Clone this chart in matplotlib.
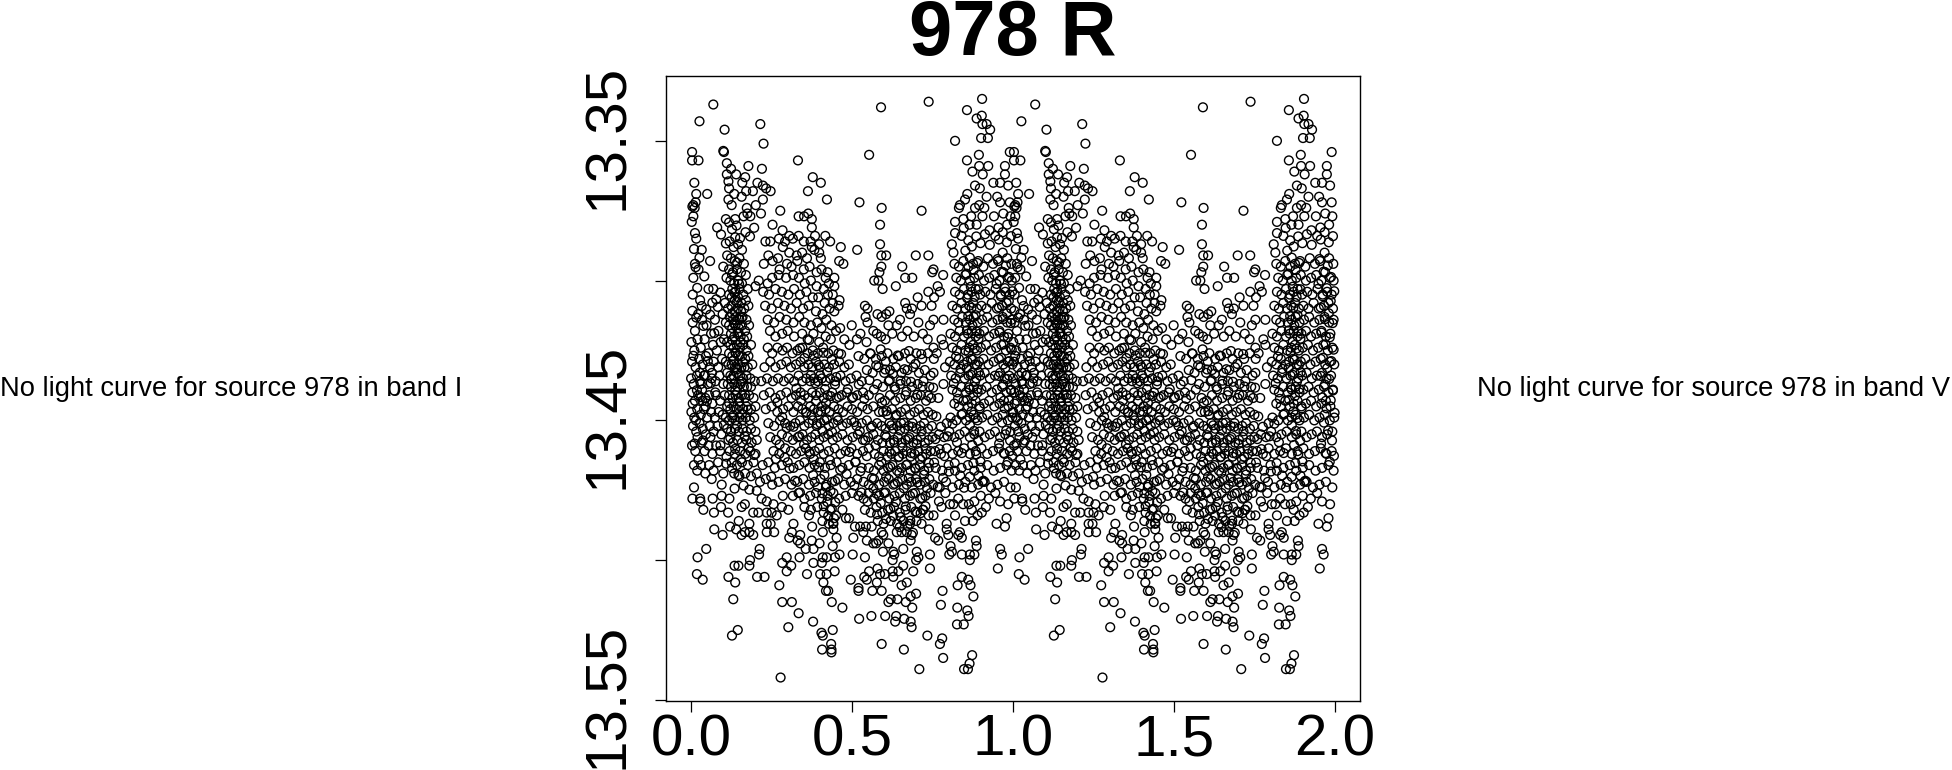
import matplotlib
matplotlib.use('Agg')
import matplotlib.pyplot as plt
from matplotlib.transforms import ScaledTranslation
import numpy as np

# phase, magnitude (the plot shows it twice)
top_sparse = [(.069,13.337),(.026,13.343),(.104,13.346),(.215,13.344),(.225,13.351),(.590,13.338),(.738,13.336),(.904,13.335),
(.857,13.339),(.903,13.341),(.887,13.342),(.905,13.344),(.918,13.344),(.929,13.346),(.901,13.349),(.922,13.349),(.820,13.350),
(.003,13.354),(.003,13.357),(.023,13.357),(.100,13.3536),(.102,13.354),(.332,13.357),(.553,13.355),(.111,13.358),(.124,13.360),
(.178,13.359),(.220,13.360),(.857,13.357),(.894,13.355),(.895,13.359),(.923,13.359),(.874,13.361),(.906,13.362),(.975,13.359),
(.990,13.354),(.111,13.362),(.140,13.362),(.168,13.363),(.378,13.363),(.403,13.365),(.010,13.365),(.159,13.365),(.116,13.3645),
(.118,13.367),(.206,13.365),(.223,13.366),(.233,13.367),(.247,13.368),(.363,13.368),(.192,13.368),(.171,13.368),(.016,13.369),
(.050,13.369),(.134,13.369),(.157,13.370),(.116,13.371),(.223,13.371),(.422,13.371),(.523,13.372),(.007,13.373),(.014,13.372),
(.004,13.3735),(.011,13.374),(.126,13.373),(.592,13.374),(.716,13.375),(.201,13.373),(.173,13.374),(.175,13.376),(.163,13.377),
(.184,13.377),(.217,13.376),(.277,13.375),(.334,13.377),(.351,13.377),(.364,13.376),(.375,13.378),(.007,13.377),(.002,13.379),
(.108,13.378),(.137,13.378),(.253,13.380),(.587,13.380),(.081,13.381),(.375,13.381),(.284,13.382),(.012,13.383),(.016,13.385),
(.882,13.366),(.897,13.367),(.858,13.369),(.851,13.371),(.918,13.370),(.951,13.370),(.960,13.372),(.939,13.365),(.960,13.365),
(.975,13.362),(.832,13.374),(.882,13.374),(.895,13.373),(.911,13.374),(.941,13.377),(.870,13.377),(.846,13.378),(.820,13.379),
(.820,13.383),(.810,13.387),(.815,13.390),(.887,13.380),(.927,13.382),(.985,13.366),(.990,13.372),(.970,13.376),(.982,13.380),
(.835,13.373),(.905,13.377),(.955,13.381),(.945,13.384),(.992,13.377),(.865,13.380),(.840,13.384)]

upper_scatter = [(.587,13.387),(.591,13.391),(.606,13.391),(.698,13.391),(.737,13.391),(.656,13.395),(.591,13.395),(.585,13.397),
(.569,13.400),(.582,13.400),(.595,13.403),(.636,13.402),(.665,13.399),(.687,13.399),(.753,13.396),(.749,13.397),(.783,13.398),
(.766,13.402),(.773,13.404),(.737,13.404),(.755,13.406),(.704,13.406),(.665,13.408),(.747,13.409),(.716,13.409),(.686,13.410),
(.670,13.410),(.680,13.412),(.540,13.409),(.548,13.410),(.542,13.413),(.548,13.415),(.579,13.412),(.592,13.413),(.606,13.412),
(.616,13.411),(.465,13.388),(.516,13.389),(.460,13.393),(.473,13.394),(.424,13.397),(.445,13.399),(.499,13.416),(.463,13.417),
(.566,13.418),(.577,13.419),(.613,13.416),(.639,13.416),(.649,13.414),(.753,13.414),(.784,13.414),(.742,13.416),(.706,13.415),
(.778,13.421),(.784,13.423),(.753,13.424),(.763,13.426),(.789,13.431),(.753,13.433),(.768,13.442),(.784,13.437),(.794,13.451),
(.007,13.399),(.023,13.396),(.033,13.389),(.012,13.394),(.059,13.393),(.005,13.405),(.028,13.407),(.054,13.403),(.069,13.403),
(.231,13.386),(.246,13.386),(.273,13.385),(.292,13.386),(.305,13.384),(.316,13.385),(.334,13.384),(.350,13.386),(.371,13.386),
(.385,13.384),(.398,13.387),(.417,13.384),(.432,13.386),(.398,13.390),(.375,13.388),(.383,13.389),(.403,13.392),(.360,13.392),
(.345,13.390),(.328,13.391),(.305,13.390),(.285,13.388),(.270,13.392),(.240,13.391),(.226,13.394),(.253,13.393),(.275,13.396),
(.298,13.394),(.312,13.395),(.330,13.393),(.350,13.396),(.368,13.395),(.390,13.397),(.405,13.396),(.418,13.399),(.428,13.401),
(.445,13.402),(.440,13.405),(.425,13.405),(.440,13.408),(.458,13.409),(.461,13.407),(.412,13.403),(.390,13.402),(.372,13.400),
(.353,13.401),(.335,13.399),(.317,13.398),(.295,13.399),(.272,13.398),(.252,13.399),(.238,13.401),(.210,13.400),(.200,13.402),
(.224,13.404),(.242,13.405),(.262,13.403),(.282,13.404),(.302,13.405),(.320,13.403),(.338,13.405),(.358,13.404),(.378,13.406),
(.395,13.406),(.415,13.408),(.430,13.410),(.445,13.411),(.230,13.409),(.250,13.410),(.270,13.408),(.290,13.409),
(.310,13.410),(.328,13.408),(.348,13.410),(.365,13.409),(.388,13.411),(.408,13.412),(.420,13.414),(.238,13.414),
(.258,13.415),(.275,13.413),(.296,13.414),(.318,13.415),(.336,13.413),(.352,13.415),(.372,13.416),(.392,13.415),(.405,13.417),
(.436,13.416),(.450,13.418),(.245,13.418),(.262,13.420),(.283,13.419),(.300,13.418),(.320,13.420),
(.345,13.419),(.362,13.421),(.380,13.419),(.398,13.422),(.418,13.420),(.434,13.421),(.476,13.421),(.492,13.423),(.515,13.421),
(.526,13.419),(.545,13.422),(.590,13.420),(.604,13.421),(.625,13.419),(.655,13.420),(.672,13.418),(.692,13.420),(.720,13.419),(.735,13.421)]

# dense columns, roughly from left to right
col_left = [(.005,13.415),(.012,13.418),(.022,13.412),(.034,13.414),(.048,13.416),(.062,13.419),(.074,13.414),(.085,13.418),
(.001,13.422),(.010,13.425),(.020,13.421),(.030,13.424),(.042,13.421),(.054,13.426),(.068,13.423),(.080,13.425),(.092,13.422),
(.003,13.429),(.014,13.431),(.025,13.428),(.036,13.430),(.046,13.427),(.058,13.431),(.070,13.429),(.084,13.431),(.096,13.428),
(.000,13.435),(.008,13.437),(.018,13.434),(.028,13.436),(.040,13.434),(.052,13.437),(.064,13.435),(.076,13.436),(.088,13.434),(.100,13.437),
(.004,13.440),(.012,13.443),(.022,13.441),(.034,13.439),(.044,13.442),(.056,13.441),(.066,13.444),(.078,13.441),(.090,13.443),(.104,13.441),
(.001,13.447),(.010,13.449),(.019,13.446),(.030,13.448),(.040,13.446),(.050,13.449),(.062,13.447),(.074,13.449),(.086,13.447),(.098,13.448),
(.006,13.452),(.016,13.454),(.026,13.451),(.036,13.453),(.046,13.455),(.058,13.452),(.070,13.454),(.082,13.452),(.094,13.455),
(.003,13.459),(.013,13.461),(.023,13.464),(.033,13.458),(.042,13.461),(.054,13.459),(.066,13.462),(.078,13.459),(.090,13.461),
(.009,13.466),(.019,13.468),(.031,13.466),(.044,13.469),(.056,13.466),(.070,13.468),(.084,13.465),(.100,13.469),(.110,13.463),
(.030,13.437),(.045,13.445),(.015,13.450),(.035,13.443),(.060,13.456),(.075,13.440),(.005,13.444),(.020,13.456),(.065,13.433)]

col_peak = [(.120,13.386),(.132,13.388),(.146,13.387),(.158,13.389),(.112,13.391),(.124,13.392),(.136,13.393),(.150,13.392),(.164,13.394),
(.100,13.395),(.118,13.396),(.130,13.397),(.142,13.396),(.155,13.397),(.170,13.398),(.110,13.399),(.122,13.400),(.134,13.401),(.146,13.400),(.158,13.401),
(.128,13.403),(.138,13.404),(.150,13.403),(.162,13.405),(.176,13.403),(.118,13.405),(.126,13.406),(.136,13.407),(.146,13.406),(.156,13.408),(.170,13.407),
(.105,13.408),(.115,13.410),(.125,13.409),(.135,13.411),(.145,13.410),(.155,13.411),(.165,13.410),(.178,13.409),(.120,13.413),(.130,13.414),(.140,13.413),
(.150,13.414),(.160,13.413),(.172,13.414),(.098,13.412),(.108,13.415),(.118,13.416),(.128,13.417),(.138,13.416),(.148,13.417),(.158,13.416),(.168,13.418),
(.180,13.416),(.124,13.419),(.134,13.420),(.144,13.419),(.154,13.420),(.164,13.421),(.174,13.420),(.102,13.421),(.112,13.422),(.122,13.423),(.132,13.424),
(.142,13.423),(.152,13.424),(.162,13.423),(.172,13.425),(.186,13.423),(.118,13.426),(.128,13.427),(.138,13.426),(.148,13.427),(.158,13.427),(.168,13.428),
(.178,13.427),(.108,13.429),(.116,13.430),(.126,13.430),(.136,13.431),(.146,13.430),(.156,13.431),(.166,13.431),(.176,13.431),(.190,13.430),(.112,13.433),
(.122,13.434),(.132,13.434),(.142,13.433),(.152,13.434),(.162,13.435),(.172,13.434),(.184,13.435),(.114,13.437),(.124,13.438),(.134,13.437),(.144,13.438),
(.154,13.437),(.164,13.438),(.174,13.438),(.186,13.438),(.198,13.436),(.118,13.441),(.128,13.442),(.138,13.441),(.148,13.442),(.158,13.441),(.168,13.442),
(.180,13.441),(.194,13.442),(.112,13.445),(.122,13.446),(.132,13.445),(.142,13.446),(.152,13.445),(.162,13.446),(.172,13.445),(.186,13.446),(.200,13.445),
(.108,13.449),(.118,13.450),(.128,13.449),(.138,13.450),(.150,13.449),(.160,13.450),(.170,13.449),(.182,13.450),(.196,13.449),(.112,13.453),(.124,13.454),
(.136,13.453),(.148,13.454),(.160,13.453),(.172,13.454),(.186,13.453),(.200,13.454),(.116,13.457),(.130,13.458),(.144,13.457),(.158,13.458),(.172,13.457),
(.188,13.458),(.204,13.457),(.120,13.461),(.136,13.462),(.152,13.461),(.168,13.462),(.184,13.461),(.200,13.462),(.126,13.465),(.142,13.466),(.158,13.465),
(.176,13.466),(.194,13.465),(.134,13.469),(.150,13.470),(.168,13.469),(.186,13.470),(.204,13.469)]

col_middle = [(.238,13.424),(.252,13.426),(.268,13.424),(.284,13.425),(.298,13.424),(.315,13.426),(.330,13.425),(.346,13.424),(.362,13.426),(.378,13.425),
(.394,13.426),(.410,13.424),(.426,13.426),(.442,13.425),(.458,13.426),(.228,13.431),(.246,13.429),(.262,13.431),(.280,13.430),(.296,13.429),(.310,13.431),
(.326,13.430),(.340,13.429),(.352,13.431),(.364,13.430),(.376,13.431),(.388,13.429),(.400,13.431),(.414,13.430),(.428,13.431),(.444,13.430),(.460,13.429),(.476,13.431),
(.490,13.430),(.218,13.436),(.236,13.435),(.254,13.436),(.270,13.435),(.288,13.436),(.304,13.435),(.320,13.436),(.334,13.434),(.346,13.436),(.358,13.435),(.370,13.436),
(.382,13.435),(.394,13.436),(.406,13.435),(.418,13.436),(.432,13.435),(.448,13.436),(.464,13.434),(.480,13.436),(.496,13.435),(.514,13.434),(.530,13.436),(.226,13.441),
(.244,13.440),(.262,13.442),(.278,13.441),(.296,13.440),(.312,13.442),(.326,13.441),(.340,13.440),(.352,13.441),(.364,13.442),(.376,13.440),(.388,13.441),(.400,13.440),
(.412,13.442),(.424,13.441),(.438,13.440),(.452,13.442),(.468,13.441),(.484,13.440),(.500,13.442),(.516,13.441),(.534,13.440),(.552,13.441),(.568,13.439),(.232,13.446),
(.250,13.445),(.268,13.447),(.286,13.446),(.302,13.445),(.318,13.447),(.332,13.445),(.346,13.446),(.358,13.447),(.370,13.445),(.382,13.446),(.394,13.447),(.406,13.445),
(.418,13.446),(.430,13.447),(.444,13.445),(.458,13.446),(.472,13.447),(.486,13.445),(.500,13.446),(.516,13.447),(.532,13.445),(.548,13.446),(.566,13.445),(.584,13.447),
(.240,13.451),(.258,13.452),(.276,13.450),(.292,13.451),(.308,13.452),(.324,13.451),(.338,13.450),(.352,13.452),(.366,13.451),(.378,13.450),(.390,13.452),(.402,13.451),
(.414,13.450),(.428,13.452),(.442,13.451),(.456,13.450),(.470,13.452),(.484,13.451),(.498,13.450),(.514,13.452),(.530,13.451),(.546,13.450),(.562,13.452),(.578,13.451),
(.246,13.456),(.264,13.457),(.282,13.455),(.300,13.456),(.316,13.457),(.332,13.456),(.346,13.455),(.360,13.457),(.374,13.456),(.386,13.455),(.398,13.457),(.412,13.456),
(.426,13.455),(.440,13.457),(.454,13.456),(.470,13.455),(.486,13.457),(.502,13.456),(.518,13.455),(.534,13.457),(.550,13.456),(.566,13.455),(.256,13.461),(.274,13.462),
(.292,13.460),(.310,13.461),(.326,13.462),(.342,13.461),(.356,13.460),(.370,13.462),(.384,13.461),(.398,13.460),(.412,13.462),(.428,13.461),(.446,13.460),(.464,13.462),
(.480,13.461),(.498,13.460),(.516,13.462),(.534,13.461),(.552,13.460),(.222,13.466),(.240,13.465),(.260,13.467),(.282,13.466),(.300,13.465),(.318,13.467),(.336,13.466),
(.352,13.465),(.368,13.467),(.384,13.466),(.400,13.465),(.416,13.467),(.434,13.466),(.452,13.465),(.470,13.467),(.490,13.466),(.510,13.465),(.530,13.467),(.214,13.472),
(.232,13.471),(.252,13.473),(.272,13.472),(.292,13.471),(.312,13.473),(.330,13.472),(.348,13.471),(.366,13.473),(.384,13.472),(.402,13.471),(.420,13.473),(.438,13.472),
(.456,13.471),(.476,13.473),(.496,13.472),(.516,13.471),(.316,13.477),(.334,13.476),(.352,13.478),(.370,13.477),(.388,13.476),(.406,13.478),(.424,13.477),(.442,13.476),
(.460,13.478),(.480,13.477),(.500,13.476),(.352,13.481),(.372,13.482),(.392,13.481),(.412,13.483),(.432,13.482),(.450,13.484),(.470,13.482),(.408,13.486),(.428,13.487),(.444,13.485)]

col_trough = [(.520,13.427),(.538,13.428),(.556,13.426),(.574,13.428),(.592,13.427),(.610,13.426),(.628,13.428),(.646,13.427),(.664,13.426),(.682,13.428),(.700,13.426),(.718,13.428),
(.736,13.426),(.754,13.428),(.546,13.432),(.564,13.433),(.582,13.431),(.600,13.433),(.618,13.432),(.636,13.431),(.654,13.433),(.672,13.432),(.690,13.431),(.708,13.433),(.726,13.432),
(.744,13.434),(.578,13.437),(.596,13.438),(.614,13.436),(.632,13.438),(.650,13.437),(.668,13.436),(.686,13.438),(.704,13.437),(.722,13.436),(.740,13.438),(.586,13.442),(.602,13.443),
(.618,13.441),(.634,13.443),(.650,13.442),(.666,13.441),(.682,13.443),(.698,13.442),(.714,13.441),(.730,13.443),(.746,13.442),(.596,13.447),(.610,13.448),(.624,13.446),(.638,13.448),
(.652,13.447),(.666,13.446),(.680,13.448),(.694,13.447),(.708,13.446),(.722,13.448),(.736,13.447),(.750,13.448),(.592,13.452),(.604,13.453),(.616,13.451),(.628,13.453),(.640,13.452),
(.652,13.451),(.664,13.453),(.676,13.452),(.688,13.451),(.700,13.453),(.712,13.452),(.724,13.451),(.736,13.453),(.748,13.452),(.580,13.457),(.594,13.458),(.606,13.456),(.618,13.458),
(.630,13.457),(.642,13.456),(.654,13.458),(.666,13.457),(.678,13.456),(.690,13.458),(.702,13.457),(.714,13.456),(.726,13.458),(.738,13.457),(.750,13.456),(.570,13.462),(.584,13.463),
(.598,13.461),(.610,13.463),(.622,13.462),(.634,13.461),(.646,13.463),(.658,13.462),(.670,13.461),(.682,13.463),(.694,13.462),(.706,13.461),(.718,13.463),(.730,13.462),(.744,13.461),
(.552,13.467),(.568,13.468),(.584,13.466),(.598,13.468),(.612,13.467),(.626,13.466),(.640,13.468),(.654,13.467),(.668,13.466),(.682,13.468),(.696,13.467),(.710,13.466),(.724,13.468),
(.738,13.467),(.536,13.472),(.552,13.473),(.568,13.471),(.584,13.473),(.600,13.472),(.614,13.471),(.628,13.473),(.642,13.472),(.656,13.471),(.670,13.473),(.684,13.472),(.698,13.471),
(.712,13.473),(.726,13.472),(.740,13.471),(.520,13.477),(.536,13.478),(.552,13.476),(.568,13.478),(.584,13.477),(.600,13.476),(.616,13.478),(.632,13.477),(.648,13.476),(.664,13.478),
(.680,13.477),(.696,13.476),(.712,13.478),(.728,13.477),(.744,13.476),(.540,13.482),(.558,13.483),(.576,13.481),(.594,13.483),(.612,13.482),(.630,13.481),(.648,13.483),(.666,13.482),
(.684,13.481),(.702,13.483),(.720,13.482),(.738,13.484),(.580,13.486),(.598,13.487),(.620,13.486),(.640,13.487),(.660,13.486),(.680,13.487),(.700,13.486),(.716,13.487)]

col_rise = [(.818,13.394),(.832,13.395),(.846,13.393),(.862,13.395),(.876,13.394),(.892,13.393),(.908,13.395),(.922,13.392),(.938,13.394),(.954,13.393),(.968,13.390),(.982,13.392),(.995,13.394),
(.824,13.399),(.838,13.400),(.852,13.398),(.866,13.400),(.880,13.399),(.894,13.398),(.910,13.400),(.926,13.399),(.942,13.398),(.958,13.400),(.970,13.397),(.984,13.399),(.996,13.400),
(.820,13.404),(.834,13.405),(.848,13.403),(.860,13.405),(.872,13.404),(.884,13.403),(.898,13.405),(.914,13.404),(.930,13.405),(.946,13.403),(.962,13.405),(.976,13.404),(.990,13.405),
(.812,13.409),(.826,13.410),(.840,13.408),(.852,13.410),(.864,13.409),(.876,13.408),(.888,13.410),(.902,13.409),(.918,13.410),(.934,13.408),(.950,13.410),(.966,13.409),(.980,13.408),(.994,13.410),
(.818,13.414),(.830,13.415),(.842,13.413),(.854,13.415),(.866,13.414),(.878,13.413),(.890,13.415),(.904,13.414),(.920,13.413),(.936,13.415),(.952,13.414),(.968,13.413),(.982,13.415),(.996,13.414),
(.806,13.419),(.820,13.420),(.834,13.418),(.848,13.420),(.860,13.419),(.872,13.418),(.884,13.420),(.896,13.419),(.910,13.418),(.926,13.420),(.942,13.419),(.958,13.418),(.972,13.420),(.986,13.419),
(.812,13.424),(.826,13.425),(.840,13.423),(.852,13.425),(.864,13.424),(.876,13.423),(.888,13.425),(.900,13.424),(.916,13.423),(.932,13.425),(.948,13.424),(.964,13.423),(.978,13.425),(.992,13.424),
(.804,13.429),(.818,13.430),(.832,13.428),(.846,13.430),(.858,13.429),(.870,13.428),(.882,13.430),(.894,13.429),(.908,13.428),(.924,13.430),(.940,13.429),(.956,13.428),(.970,13.430),(.984,13.429),(.998,13.430),
(.808,13.434),(.822,13.435),(.836,13.433),(.850,13.435),(.862,13.434),(.874,13.433),(.886,13.435),(.898,13.434),(.912,13.433),(.928,13.435),(.944,13.434),(.960,13.433),(.974,13.435),(.988,13.434),
(.812,13.439),(.826,13.440),(.840,13.438),(.854,13.440),(.866,13.439),(.878,13.438),(.890,13.440),(.902,13.439),(.918,13.438),(.934,13.440),(.950,13.439),(.966,13.438),(.980,13.440),(.994,13.439),
(.818,13.444),(.832,13.445),(.846,13.443),(.860,13.445),(.872,13.444),(.884,13.443),(.896,13.445),(.910,13.444),(.926,13.443),(.942,13.445),(.958,13.444),(.972,13.443),(.986,13.445),
(.806,13.449),(.824,13.450),(.840,13.448),(.854,13.450),(.866,13.449),(.878,13.448),(.890,13.450),(.904,13.449),(.920,13.448),(.936,13.450),(.952,13.449),(.968,13.448),(.984,13.450),(.998,13.449),
(.770,13.455),(.786,13.456),(.802,13.454),(.818,13.456),(.834,13.455),(.850,13.454),(.866,13.456),(.880,13.455),(.896,13.454),(.912,13.456),(.928,13.455),(.944,13.454),(.960,13.456),(.976,13.455),(.992,13.454),
(.758,13.461),(.776,13.462),(.794,13.460),(.812,13.462),(.830,13.461),(.848,13.460),(.866,13.462),(.884,13.461),(.902,13.460),(.920,13.462),(.938,13.461),(.956,13.460),(.974,13.462),(.990,13.461),
(.760,13.467),(.780,13.468),(.800,13.466),(.820,13.468),(.840,13.467),(.860,13.466),(.880,13.468),(.900,13.467),(.920,13.466),(.940,13.468),(.960,13.467),(.980,13.466),(.996,13.468),
(.752,13.473),(.772,13.474),(.792,13.472),(.812,13.474),(.832,13.473),(.852,13.472),(.872,13.474),(.892,13.473),(.912,13.472),(.932,13.474),(.952,13.473),(.972,13.472),(.992,13.474)]

lower_sparse = [(.278,13.542),(.127,13.527),(.145,13.525),(.302,13.524),(.379,13.522),(.405,13.526),(.409,13.527),(.440,13.525),(.435,13.530),(.407,13.532),(.436,13.532),(.436,13.533),
(.334,13.519),(.283,13.515),(.313,13.515),(.131,13.514),(.437,13.515),(.470,13.517),(.522,13.521),(.560,13.520),(.603,13.520),(.637,13.520),(.634,13.522),(.662,13.521),(.682,13.522),(.685,13.524),
(.592,13.530),(.661,13.532),(.734,13.527),(.780,13.528),(.773,13.530),(.783,13.535),(.709,13.539),(.873,13.534),(.865,13.537),(.848,13.539),(.860,13.539),(.826,13.523),(.847,13.523),(.862,13.520),
(.858,13.518),(.827,13.517),(.776,13.516),(.781,13.511),(.877,13.513),(.868,13.509),(.861,13.507),(.841,13.506),(.828,13.509),(.953,13.503),(.965,13.498),(.960,13.496),(.018,13.505),(.036,13.507),
(.020,13.499),(.047,13.496),(.116,13.506),(.137,13.508),(.205,13.506),(.228,13.506),(.274,13.509),(.135,13.502),(.147,13.502),(.181,13.502),(.183,13.500),(.211,13.498),(.213,13.496),(.283,13.501),
(.297,13.499),(.311,13.502),(.297,13.504),(.337,13.499),(.360,13.505),(.380,13.501),(.406,13.501),(.401,13.505),(.421,13.505),(.446,13.504),(.411,13.508),(.419,13.511),(.426,13.511),(.496,13.507),
(.520,13.510),(.520,13.511),(.538,13.506),(.546,13.507),(.553,13.504),(.577,13.508),(.563,13.511),(.592,13.511),(.579,13.503),(.587,13.505),(.602,13.505),(.628,13.506),(.626,13.504),(.644,13.504),
(.659,13.502),(.670,13.508),(.654,13.509),(.690,13.504),(.742,13.503),(.613,13.515),(.620,13.514),(.641,13.514),(.667,13.515),(.682,13.513),(.699,13.512),(.687,13.517)]

mid_sparse = [(.064,13.471),(.009,13.474),(.095,13.473),(.004,13.478),(.028,13.478),(.029,13.479),(.038,13.482),(.067,13.478),(.095,13.477),(.093,13.481),(.119,13.478),(.071,13.483),(.115,13.483),
(.072,13.489),(.098,13.491),(.121,13.488),(.140,13.489),(.148,13.486),(.157,13.491),(.167,13.490),(.181,13.490),(.193,13.491),(.181,13.487),(.157,13.481),(.167,13.480),(.193,13.483),(.209,13.483),
(.235,13.483),(.250,13.483),(.266,13.484),(.235,13.487),(.247,13.487),(.235,13.490),(.258,13.490),(.219,13.478),(.235,13.479),(.256,13.480),(.285,13.477),(.282,13.481),(.302,13.482),(.318,13.487),
(.313,13.490),(.305,13.492),(.339,13.491),(.331,13.493),(.339,13.494),(.366,13.484),(.356,13.496),(.380,13.496),(.375,13.493),(.399,13.494),(.376,13.488),(.409,13.490),(.442,13.487),(.442,13.489),
(.452,13.492),(.440,13.495),(.409,13.499),(.421,13.499),(.447,13.499),(.461,13.498),(.481,13.485),(.491,13.485),(.504,13.492),(.502,13.498),(.540,13.499),(.509,13.488),(.525,13.488),(.543,13.488),
(.561,13.488),(.566,13.494),(.575,13.494),(.582,13.493),(.535,13.490),(.546,13.493),(.592,13.490),(.597,13.491),(.596,13.497),(.613,13.494),(.628,13.497),(.626,13.500),(.631,13.498),(.659,13.496),
(.639,13.490),(.654,13.490),(.670,13.490),(.685,13.491),(.682,13.493),(.701,13.497),(.706,13.499),(.699,13.500),(.742,13.498),(.739,13.489),(.758,13.492),(.768,13.493),(.753,13.484),(.721,13.482),
(.794,13.487),(.794,13.489),(.799,13.491),(.806,13.495),(.810,13.497),(.802,13.498),(.830,13.491),(.841,13.492),(.835,13.490),(.841,13.498),(.866,13.498),(.880,13.498),(.866,13.500),(.885,13.493),
(.887,13.495),(.820,13.484),(.851,13.486),(.778,13.481),(.804,13.480),(.815,13.480),(.863,13.480),(.872,13.482),(.903,13.483),(.916,13.481),(.949,13.487),(.975,13.488),(.980,13.485),(.985,13.480),
(.770,13.479),(.790,13.476),(.830,13.478),(.845,13.480),(.880,13.479),(.900,13.477),(.925,13.478),(.945,13.476),(.960,13.479),(.905,13.472),(.875,13.486),(.890,13.484)]

# second pass over the dark strands, where the rings pile up
strand_peak = [(.093,13.3835),(.118,13.3792),(.127,13.3816),(.141,13.3803),(.152,13.3848),(.169,13.3827),(.183,13.3842),(.196,13.3811),(.108,13.3867),(.137,13.3845),
(.127,13.3978),(.143,13.3936),(.134,13.4043),(.149,13.4012),(.127,13.4118),(.142,13.4077),(.133,13.4153),(.157,13.4134),(.128,13.4213),(.147,13.4185),
(.139,13.4258),(.153,13.4221),(.131,13.4286),(.161,13.4292),(.143,13.4317),(.125,13.4352),(.156,13.4361),(.137,13.4394),(.149,13.4433),(.167,13.4407),
(.118,13.4438),(.131,13.4482),(.158,13.4477),(.176,13.4462),(.102,13.4516),(.143,13.4519),(.166,13.4557),(.122,13.4563),(.091,13.4589),(.137,13.4602),
(.155,13.4639),(.179,13.4598),(.127,13.4671),(.196,13.4624),(.109,13.4655),(.147,13.4695),(.163,13.4733),(.181,13.4748),(.135,13.4744),(.204,13.4752),
(.018,13.4392),(.007,13.4269),(.031,13.4417),(.043,13.4338),(.027,13.4329),(.011,13.4583),(.049,13.4431),(.061,13.4367),(.037,13.4572),(.052,13.4288),
(.026,13.3918),(.041,13.3985),(.009,13.3887),(.014,13.3952),(.019,13.4026),(.033,13.4091),(.047,13.4103),(.066,13.4079),(.078,13.4067),(.091,13.4043),
(.004,13.4108),(.016,13.4132),(.059,13.4122),(.083,13.4094),(.038,13.4162),(.072,13.4188)]

strand_swirl = [(.338,13.4242),(.352,13.4277),(.367,13.4213),(.381,13.4268),(.396,13.4302),(.411,13.4258),(.423,13.4327),(.437,13.4283),(.451,13.4345),(.466,13.4263),
(.372,13.4338),(.386,13.4367),(.401,13.4339),(.416,13.4388),(.433,13.4413),(.447,13.4372),(.459,13.4416),(.388,13.4432),(.403,13.4468),(.419,13.4437),
(.327,13.4386),(.342,13.4428),(.357,13.4473),(.374,13.4482),(.391,13.4513),(.408,13.4537),(.422,13.4496),(.438,13.4542),(.454,13.4488),(.318,13.4523),
(.336,13.4557),(.351,13.4586),(.367,13.4612),(.381,13.4639),(.397,13.4668),(.414,13.4695),(.431,13.4642),(.447,13.4717),(.463,13.4677),(.379,13.4696),
(.394,13.4738),(.408,13.4761),(.423,13.4792),(.437,13.4816),(.419,13.4738),(.433,13.4753),(.448,13.4793),(.426,13.4842),(.441,13.4868),(.412,13.4807),
(.268,13.4435),(.283,13.4488),(.297,13.4527),(.275,13.4586),(.291,13.4633),(.306,13.4672),(.263,13.4638),(.249,13.4702),(.323,13.4716),(.338,13.4758),
(.487,13.4388),(.503,13.4417),(.521,13.4372),(.538,13.4423),(.554,13.4356),(.507,13.4506),(.524,13.4538),(.541,13.4572),(.559,13.4526),(.573,13.4589),
(.492,13.4613),(.511,13.4648),(.526,13.4682),(.546,13.4628),(.562,13.4706),(.483,13.4692),(.507,13.4733),(.529,13.4758),(.548,13.4791),(.566,13.4743)]

strand_trough = [(.593,13.4436),(.607,13.4467),(.622,13.4518),(.636,13.4483),(.649,13.4536),(.661,13.4508),(.674,13.4567),(.687,13.4523),(.701,13.4584),(.716,13.4539),
(.729,13.4602),(.603,13.4553),(.617,13.4612),(.631,13.4578),(.644,13.4632),(.657,13.4597),(.671,13.4658),(.684,13.4617),(.697,13.4673),(.711,13.4638),
(.724,13.4694),(.739,13.4652),(.591,13.4648),(.606,13.4702),(.619,13.4666),(.633,13.4727),(.647,13.4688),(.661,13.4743),(.676,13.4706),(.689,13.4762),
(.703,13.4722),(.718,13.4778),(.733,13.4743),(.576,13.4762),(.589,13.4796),(.604,13.4758),(.619,13.4817),(.636,13.4792),(.651,13.4846),(.667,13.4808),
(.681,13.4859),(.697,13.4826),(.713,13.4832),(.728,13.4807),(.578,13.4836),(.606,13.4853),(.628,13.4841),(.648,13.4882),(.672,13.4877),(.689,13.4902),
(.603,13.4318),(.617,13.4356),(.634,13.4389),(.651,13.4358),(.669,13.4397),(.683,13.4362),(.703,13.4408),(.719,13.4379),(.737,13.4412),(.752,13.4383),
(.558,13.4262),(.575,13.4303),(.589,13.4246),(.605,13.4289),(.627,13.4333),(.642,13.4268),(.663,13.4317),(.677,13.4252),(.697,13.4298),(.715,13.4263),
(.762,13.4486),(.776,13.4523),(.759,13.4567),(.772,13.4603),(.787,13.4628),(.801,13.4683),(.783,13.4706),(.766,13.4738),(.755,13.4651),(.797,13.4557)]

strand_rise = [(.847,13.3812),(.861,13.3856),(.872,13.3878),(.886,13.3842),(.899,13.3866),(.913,13.3834),(.928,13.3872),(.956,13.3853),(.968,13.3827),(.981,13.3863),(.994,13.3841),
(.852,13.3893),(.866,13.3918),(.878,13.3962),(.889,13.3937),(.855,13.3975),(.869,13.4022),(.881,13.4058),(.893,13.4031),(.858,13.4063),(.871,13.4097),(.884,13.4124),
(.861,13.4127),(.874,13.4161),(.887,13.4182),(.857,13.4178),(.869,13.4217),(.881,13.4243),(.893,13.4208),(.862,13.4256),(.875,13.4283),(.888,13.4302),(.856,13.4313),
(.869,13.4337),(.882,13.4362),(.894,13.4328),(.863,13.4382),(.876,13.4413),(.889,13.4388),(.858,13.4426),(.871,13.4468),(.884,13.4492),(.897,13.4457),(.866,13.4517),
(.879,13.4538),(.892,13.4573),(.873,13.4588),(.886,13.4622),(.899,13.4647),(.877,13.4653),(.893,13.4698),(.908,13.4716),(.866,13.4702),(.848,13.4741),
(.952,13.3923),(.965,13.3968),(.978,13.3946),(.988,13.3987),(.949,13.4012),(.962,13.4056),(.975,13.4027),(.987,13.4073),(.998,13.4038),(.956,13.4096),(.969,13.4138),
(.981,13.4117),(.993,13.4152),(.958,13.4186),(.971,13.4228),(.984,13.4203),(.996,13.4247),(.963,13.4276),(.976,13.4313),(.989,13.4288),(.956,13.4341),(.969,13.4372),
(.982,13.4352),(.994,13.4393),(.961,13.4418),(.974,13.4457),(.987,13.4428),(.999,13.4473),(.966,13.4508),(.979,13.4536),(.991,13.4572),(.957,13.4583),(.971,13.4617),
(.984,13.4648),(.997,13.4627),(.823,13.4272),(.837,13.4316),(.816,13.4367),(.829,13.4423),(.843,13.4476),(.812,13.4512),(.826,13.4578),(.841,13.4617),(.819,13.4653),(.836,13.4697)]

phase_ticks = [0.0, 0.5, 1.0, 1.5, 2.0]
mag_ticks = [13.35, 13.40, 13.45, 13.50, 13.55]
mag_labels = ['13.35', '', '13.45', '', '13.55']

points = np.array(top_sparse + upper_scatter + col_left + col_peak + col_middle + col_trough + col_rise + lower_sparse + mid_sparse
                  + strand_peak + strand_swirl + strand_trough + strand_rise)
phase = points[:, 0]
mag = points[:, 1]

plt.rcParams['font.family'] = ['Liberation Sans', 'DejaVu Sans']

W, H = 1952, 770
fig = plt.figure(figsize=(W / 100, H / 100), dpi=100)
ax = fig.add_axes([666 / W, 1 - 701 / H, 694 / W, 625 / H])

for shift in [0, 1]:
    ax.scatter(phase + shift, mag, s=40, facecolors='none', edgecolors='black', linewidths=1.0)

ax.set_xlim(-0.078, 2.078)
ax.set_ylim(13.5504, 13.3268)
ax.set_xticks(phase_ticks)
ax.set_xticklabels([f'{t:.1f}' for t in phase_ticks], fontsize=42)
ax.set_yticks(mag_ticks)
ax.set_yticklabels(mag_labels, fontsize=42, rotation=90, va='center')
ax.tick_params(axis='x', length=8, width=0.9, pad=1)
ax.tick_params(axis='y', length=8, width=0.9, pad=14)
for label in ax.get_yticklabels():
    label.set_transform(label.get_transform() + ScaledTranslation(0, 0.04, fig.dpi_scale_trans))
for side in ax.spines.values():
    side.set_linewidth(1.0)

fig.text(1013 / W, 1 - 35 / H, '978 R', fontsize=56, fontweight='bold', ha='center', va='center')
fig.text(0, 1 - 389.5 / H, 'No light curve for source 978 in band I', fontsize=19.7, ha='left', va='center')
fig.text(1950 / W, 1 - 389.5 / H, 'No light curve for source 978 in band V', fontsize=19.7, ha='right', va='center')

fig.savefig('out.png', dpi=100)
